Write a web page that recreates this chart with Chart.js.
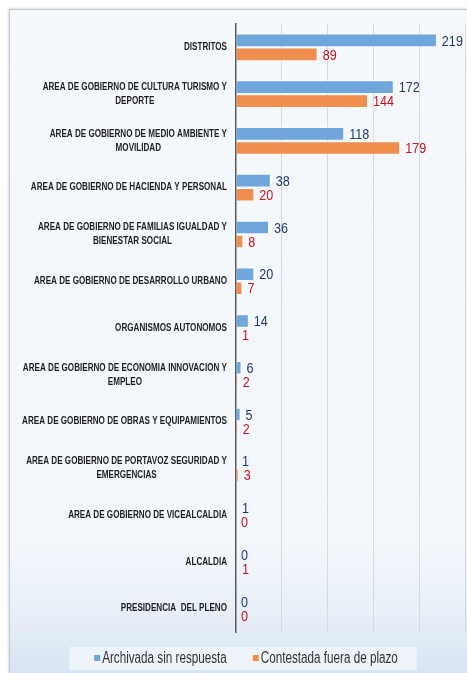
<!DOCTYPE html>
<html>
<head>
<meta charset="utf-8">
<script src="https://cdn.jsdelivr.net/npm/chart.js@4"></script>
<style>
html,body{margin:0;padding:0;background:#fff;width:467px;height:673px;overflow:hidden;position:relative;}
#frame{position:absolute;left:9px;top:9px;width:470px;height:672px;border-left:1px solid #c6c6c6;border-top:1px solid #c6c6c6;box-shadow:0 0 3px rgba(0,0,0,0.22);
background:linear-gradient(to bottom,#f5f8fc 0%,#f3f7fc 80%,#e4edf7 92%,#d4e2f2 100%);}
#c{position:absolute;left:10px;top:10px;}
</style>
</head>
<body>
<div id="frame"></div>
<canvas id="c" width="457" height="663"></canvas>
<script>
const categories = [
  ["DISTRITOS"],
  ["AREA DE GOBIERNO DE CULTURA TURISMO Y", "DEPORTE"],
  ["AREA DE GOBIERNO DE MEDIO AMBIENTE Y", "MOVILIDAD"],
  ["AREA DE GOBIERNO DE HACIENDA Y PERSONAL"],
  ["AREA DE GOBIERNO DE FAMILIAS IGUALDAD Y", "BIENESTAR SOCIAL"],
  ["AREA DE GOBIERNO DE DESARROLLO URBANO"],
  ["ORGANISMOS AUTONOMOS"],
  ["AREA DE GOBIERNO DE ECONOMIA INNOVACION Y", "EMPLEO"],
  ["AREA DE GOBIERNO DE OBRAS Y EQUIPAMIENTOS"],
  ["AREA DE GOBIERNO DE PORTAVOZ SEGURIDAD Y", "EMERGENCIAS"],
  ["AREA DE GOBIERNO DE VICEALCALDIA"],
  ["ALCALDIA"],
  ["PRESIDENCIA  DEL PLENO"]
];
const seriesNames = ["Archivada sin respuesta", "Contestada fuera de plazo"];
const archivada = [219, 172, 118, 38, 36, 20, 14, 6, 5, 1, 1, 0, 0];
const contestada = [89, 144, 179, 20, 8, 7, 1, 2, 2, 3, 0, 1, 0];
const xTicks = [0, 50, 100, 150, 200, 250];

const FONT = "'Liberation Sans',Arial,sans-serif";
const labelColors = ["#1f3a73", "#c8141e"];
const barColors = ["#6fa7dc", "#f08e4d"];

function condensedText(ctx, text, x, y, align, sx) {
  ctx.save();
  ctx.translate(x, y);
  ctx.scale(sx, 1);
  ctx.textAlign = align;
  ctx.fillText(text, 0, 0);
  ctx.restore();
}

const yLabelPlugin = {
  id: 'yLabels',
  afterDraw(chart) {
    const ctx = chart.ctx;
    const ys = chart.scales.y;
    const right = ys.right - 9;
    const sx = 0.81;
    ctx.save();
    ctx.font = "bold 10px " + FONT;
    ctx.fillStyle = "#1e1e1e";
    ctx.textBaseline = "middle";
    categories.forEach((lines, i) => {
      const y = ys.getPixelForTick(i);
      let maxW = 0;
      lines.forEach(l => { maxW = Math.max(maxW, ctx.measureText(l).width * sx); });
      const cx = right - maxW / 2;
      lines.forEach((l, j) => {
        condensedText(ctx, l, cx, y + (j - (lines.length - 1) / 2) * 14, "center", sx);
      });
    });
    ctx.restore();
  }
};

const valueLabelPlugin = {
  id: 'valueLabels',
  afterDatasetsDraw(chart) {
    const ctx = chart.ctx;
    ctx.save();
    ctx.font = "15px " + FONT;
    ctx.textBaseline = "middle";
    chart.data.datasets.forEach((ds, di) => {
      const meta = chart.getDatasetMeta(di);
      ctx.fillStyle = labelColors[di];
      meta.data.forEach((el, i) => {
        condensedText(ctx, String(ds.data[i]), el.x + 5, el.y + 1, "left", 0.84);
      });
    });
    ctx.restore();
  }
};

const customLegendPlugin = {
  id: 'customLegend',
  afterDraw(chart) {
    const ctx = chart.ctx;
    const sx = 0.73;
    const cy = chart.chartArea.bottom + 26;
    const cxMid = chart.chartArea.left + 10;
    ctx.save();
    ctx.font = "16px " + FONT;
    ctx.textBaseline = "middle";
    const items = chart.data.datasets.map((ds, i) => ({
      text: ds.label, color: barColors[i], w: 6 + 2 + ctx.measureText(ds.label).width * sx
    }));
    const gap = 26;
    const total = items.reduce((a, b) => a + b.w, 0) + gap * (items.length - 1);
    let x = cxMid - total / 2;
    ctx.fillStyle = "rgba(240,245,251,0.9)";
    ctx.fillRect(x - 25, cy - 11, total + 44, 23);
    items.forEach(it => {
      ctx.fillStyle = it.color;
      ctx.fillRect(x, cy - 3, 6, 6);
      ctx.fillStyle = "#333333";
      condensedText(ctx, it.text, x + 8, cy + 1, "left", sx);
      x += it.w + gap;
    });
    ctx.restore();
  }
};

new Chart(document.getElementById('c'), {
  type: 'bar',
  data: {
    labels: categories,
    datasets: [
      { label: seriesNames[0], data: archivada, backgroundColor: barColors[0], borderColor: "rgba(255,255,255,0.45)", borderWidth: 1,
        categoryPercentage: 0.6, barPercentage: 0.97 },
      { label: seriesNames[1], data: contestada, backgroundColor: barColors[1], borderColor: "rgba(255,255,255,0.45)", borderWidth: 1,
        categoryPercentage: 0.6, barPercentage: 0.97 }
    ]
  },
  options: {
    indexAxis: 'y',
    responsive: false,
    animation: false,
    devicePixelRatio: 1,
    layout: { padding: { top: 14, right: 1.7, left: 0, bottom: 41 } },
    scales: {
      x: {
        min: xTicks[0], max: xTicks[xTicks.length - 1],
        afterBuildTicks(scale) { scale.ticks = xTicks.map(v => ({ value: v })); },
        ticks: { display: false },
        grid: {
          drawTicks: false,
          color: (c) => (c.tick && c.tick.value === 0) ? 'rgba(0,0,0,0)' : '#d9d9d9',
          lineWidth: 1
        },
        border: { display: false }
      },
      y: {
        ticks: { display: false },
        grid: { display: false, drawTicks: false },
        border: { display: true, color: '#5a5a5a', width: 1.5 },
        afterFit(scale) { scale.width = 226; }
      }
    },
    plugins: {
      legend: { display: false },
      tooltip: { enabled: false }
    }
  },
  plugins: [yLabelPlugin, valueLabelPlugin, customLegendPlugin]
});
</script>
</body>
</html>
